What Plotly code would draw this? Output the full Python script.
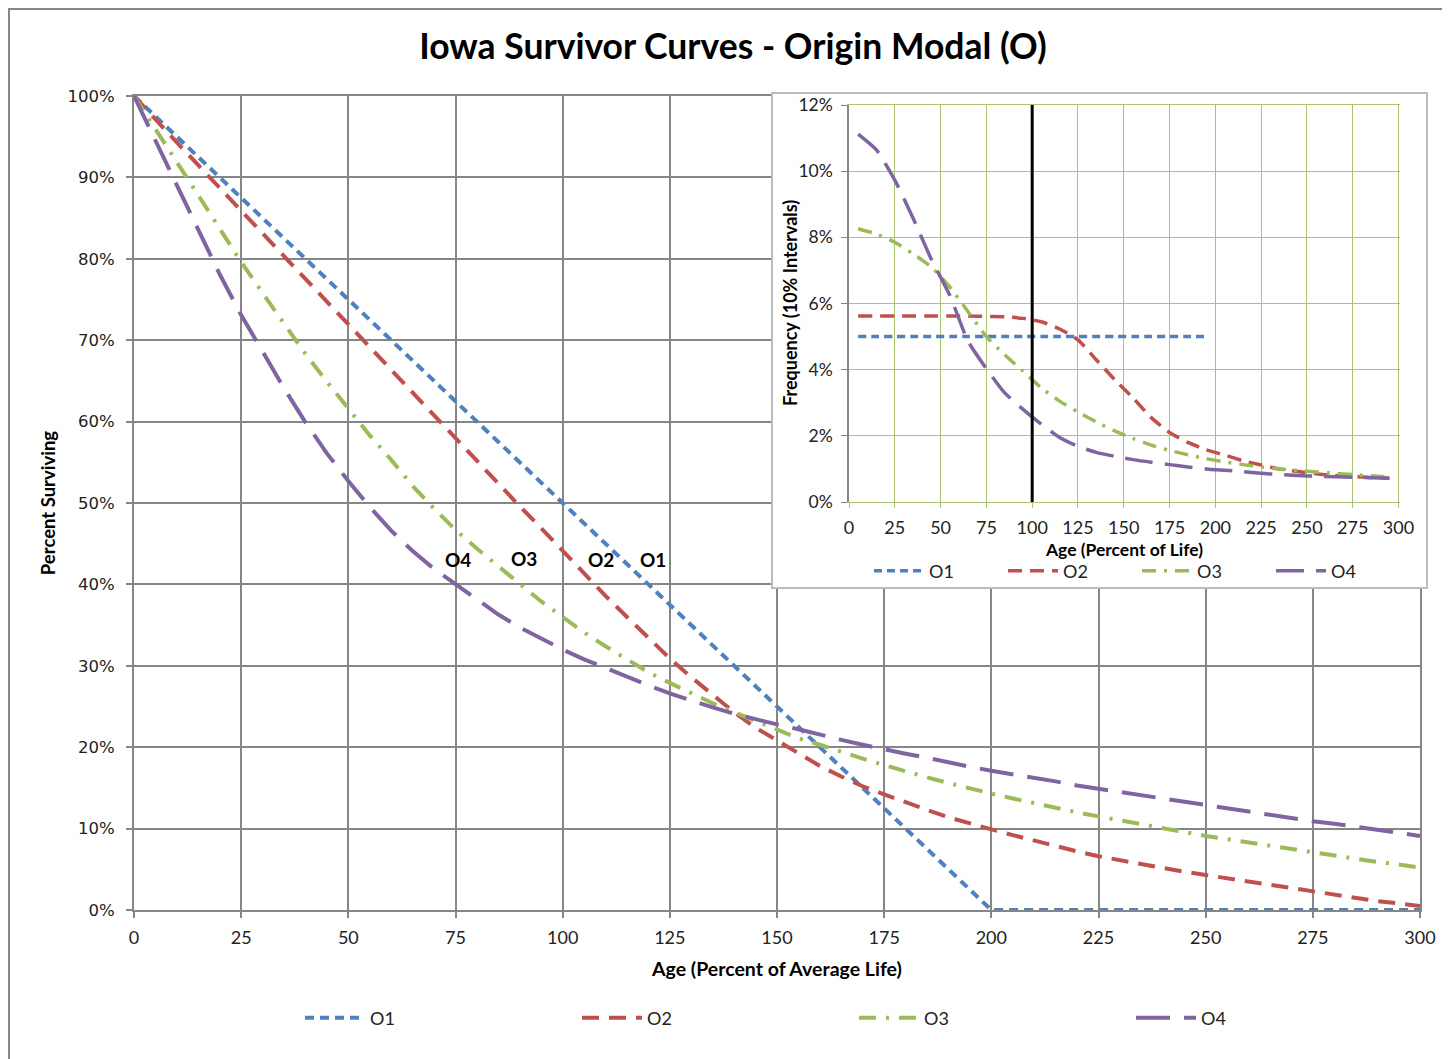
import plotly.graph_objects as go

# ---------------- data ----------------
AGE = list(range(0, 301, 5))  # percent of average life

O1_SURV = [100, 97.5, 95, 92.5, 90, 87.5, 85, 82.5, 80, 77.5, 75, 72.5, 70, 67.5, 65, 62.5,
           60, 57.5, 55, 52.5, 50, 47.5, 45, 42.5, 40, 37.5, 35, 32.5, 30, 27.5, 25, 22.5,
           20, 17.5, 15, 12.5, 10, 7.5, 5, 2.5, 0,
           0, 0, 0, 0, 0, 0, 0, 0, 0, 0, 0, 0, 0, 0, 0, 0, 0, 0, 0, 0]
O2_SURV = [100, 97.1, 94.3, 91.5, 88.7, 85.9, 83.1, 80.3, 77.5, 74.7, 71.9, 69.1, 66.3, 63.5,
           60.8, 58.0, 55.2, 52.4, 49.6, 46.9, 44.1,
           41.4, 38.6, 36.0, 33.4, 30.9, 28.6, 26.4, 24.3, 22.4, 20.8, 19.2, 17.7, 16.4, 15.2,
           14.2, 13.2, 12.3, 11.4, 10.6, 9.9,
           9.2, 8.5, 7.8, 7.2, 6.6, 6.1, 5.6, 5.1, 4.7, 4.3, 3.9, 3.5, 3.0, 2.6, 2.3, 1.9, 1.4,
           1.1, 0.8, 0.5]
O3_SURV = [100, 96.0, 91.8, 87.8, 83.7, 79.6, 75.8, 72.0, 68.3, 64.9, 61.6, 58.3, 55.3, 52.1,
           49.3, 46.7, 44.4, 42.2, 40.0, 37.9, 36.0,
           34.1, 32.4, 30.8, 29.2, 27.9, 26.6, 25.4, 24.3, 23.2, 22.1, 21.1, 20.3, 19.4, 18.6,
           17.8, 17.0, 16.3, 15.6, 14.9, 14.3,
           13.7, 13.1, 12.5, 12.0, 11.5, 11.0, 10.5, 10.0, 9.6, 9.1, 8.7, 8.3, 7.9, 7.4, 7.0,
           6.6, 6.3, 5.9, 5.6, 5.2]
O4_SURV = [100, 94.5, 89.2, 83.5, 78.1, 73.1, 68.5, 64.1, 59.9, 56.1, 52.7, 49.5, 46.6, 44.1,
           41.9, 40.0, 38.1, 36.3, 34.7, 33.3, 32.0,
           30.8, 29.7, 28.6, 27.6, 26.6, 25.7, 24.9, 24.1, 23.4, 22.8, 22.2, 21.5, 20.9, 20.3,
           19.7, 19.2, 18.7, 18.1, 17.6, 17.1,
           16.7, 16.2, 15.8, 15.3, 14.9, 14.5, 14.1, 13.7, 13.3, 12.8, 12.4, 12.0, 11.6, 11.3,
           10.9, 10.6, 10.2, 9.8, 9.4, 9.1]

# inset: frequency per 10% interval (plotted at interval midpoints)
FREQ_AGE = list(range(5, 300, 10))
O1_FREQ = [5.0] * 20 + [None] * 10
O2_FREQ = [5.62, 5.62, 5.62, 5.62, 5.62, 5.62, 5.62, 5.61, 5.6, 5.55,
           5.45, 5.23, 4.9, 4.3, 3.7, 3.15, 2.55, 2.1, 1.8, 1.58,
           1.42, 1.25, 1.12, 1.0, 0.92, 0.85, 0.8, 0.77, 0.74, 0.72]
O3_FREQ = [8.26, 8.1, 7.85, 7.5, 7.1, 6.5, 5.75, 5.0, 4.45, 3.95,
           3.45, 3.05, 2.72, 2.42, 2.15, 1.92, 1.72, 1.56, 1.43, 1.31,
           1.21, 1.13, 1.06, 1.0, 0.95, 0.91, 0.87, 0.83, 0.79, 0.75]
O4_FREQ = [11.12, 10.64, 9.73, 8.58, 7.33, 6.25, 4.86, 4.03, 3.3, 2.8,
           2.35, 1.95, 1.68, 1.5, 1.38, 1.28, 1.2, 1.13, 1.06, 1.0,
           0.96, 0.92, 0.87, 0.83, 0.8, 0.78, 0.76, 0.75, 0.73, 0.72]
MEAN_LIFE = 100

NAMES = ["O1", "O2", "O3", "O4"]
LABEL_X = [121, 109, 91, 75.5]
LABEL_Y = [43.1, 43.0, 43.2, 43.0]

# ---------------- style ----------------
COLORS = ["#4f81bd", "#c0504d", "#9bbb59", "#8064a2"]
DASH_MAIN = ["9px,6px", "17px,10px", "17px,10px,3px,10px", "34px,14px"]
DASH_INS = ["8px,5px", "14px,8px", "14px,8px,3px,8px", "28px,12px"]
GRAY = "#868686"
GREEN_GRID = "#abc573"
FONT = "Lato"

# page offset (default body margin) -> figure is drawn from (8, 8)
OFF = 8
W, H = 1450 - OFF, 1059 - OFF
L, T = 134 - OFF, 90 - OFF          # paper area starts at page (134, 90)
PW, PH = 1296, 820                  # paper area spans page x 134..1430, y 90..910
R = W - L - PW
B = H - T - PH


def px_x(p):  # page x -> paper fraction
    return (p - 134) / PW


def px_y(p):  # page y -> paper fraction
    return (910 - p) / PH


fig = go.Figure()

surv = [O1_SURV, O2_SURV, O3_SURV, O4_SURV]
freq = [O1_FREQ, O2_FREQ, O3_FREQ, O4_FREQ]

for i, name in enumerate(NAMES):
    fig.add_trace(go.Scatter(
        x=AGE, y=surv[i], mode="lines", name=name,
        line=dict(color=COLORS[i], width=4, dash=DASH_MAIN[i]),
        xaxis="x", yaxis="y", legend="legend", hoverinfo="skip"))

# invisible trace that creates the inset's white box subplot
fig.add_trace(go.Scatter(x=[], y=[], xaxis="x2", yaxis="y2", showlegend=False,
                         hoverinfo="skip"))

for i, name in enumerate(NAMES):
    fig.add_trace(go.Scatter(
        x=FREQ_AGE, y=freq[i], mode="lines", name=name,
        line=dict(color=COLORS[i], width=3.5, dash=DASH_INS[i],
                  shape="spline", smoothing=0.6),
        xaxis="x3", yaxis="y3", legend="legend2", hoverinfo="skip"))

for i, name in enumerate(NAMES):
    fig.add_annotation(x=LABEL_X[i], y=LABEL_Y[i], xref="x", yref="y", text=name,
                       showarrow=False,
                       font=dict(family=FONT, size=19, color="black", weight="bold"))

# inset y-axis title (placed close to tick labels as in the original)
fig.add_annotation(x=px_x(790), y=px_y(303), xref="paper", yref="paper",
                   text="Frequency (10% Intervals)", textangle=-90, showarrow=False,
                   xanchor="center", yanchor="middle",
                   font=dict(family=FONT, size=18, color="black", weight="bold"))

fig.add_shape(type="line", xref="x3", yref="y3", x0=MEAN_LIFE, x1=MEAN_LIFE, y0=0, y1=12,
              line=dict(color="black", width=3), layer="above")

# outer chart border
fig.add_shape(type="rect", xref="paper", yref="paper",
              x0=px_x(9), x1=px_x(1480), y0=px_y(1100), y1=px_y(9),
              line=dict(color=GRAY, width=2), fillcolor="rgba(0,0,0,0)", layer="above")

fig.update_layout(
    width=W, height=H, autosize=False,
    margin=dict(l=L, r=R, t=T, b=B, autoexpand=False),
    paper_bgcolor="white", plot_bgcolor="white",
    title=dict(text="Iowa Survivor Curves - Origin Modal (O)",
               xref="container", x=(733 - OFF) / W, xanchor="center",
               yref="container", y=1 - (47 - OFF) / H, yanchor="middle",
               font=dict(family=FONT, size=35.5, color="black", weight="bold")),
    xaxis=dict(domain=[0, px_x(1420)], range=[0, 300], tick0=0, dtick=25,
               showgrid=True, gridcolor=GRAY, gridwidth=2,
               showline=True, linecolor=GRAY, linewidth=2, mirror=True,
               ticks="outside", ticklen=6, tickcolor=GRAY, tickwidth=2,
               zeroline=False, anchor="y", ticklabelstandoff=4,
               tickfont=dict(family=FONT, size=18, color="#222"),
               title=dict(text="Age (Percent of Average Life)", standoff=16,
                          font=dict(family=FONT, size=19.5, color="black", weight="bold"))),
    yaxis=dict(domain=[0, px_y(96)], range=[0, 100], tick0=0, dtick=10, ticksuffix="%",
               showgrid=True, gridcolor=GRAY, gridwidth=2,
               showline=True, linecolor=GRAY, linewidth=2, mirror=True,
               ticks="outside", ticklen=6, tickcolor=GRAY, tickwidth=2,
               zeroline=False, anchor="x", ticklabelstandoff=8,
               tickfont=dict(family="DejaVu Sans", size=16.5, color="#222"),
               title=dict(text="Percent Surviving", standoff=7,
                          font=dict(family=FONT, size=18.5, color="black", weight="bold"))),
    xaxis2=dict(domain=[px_x(773), px_x(1426)], range=[0, 1], anchor="y2",
                showgrid=False, zeroline=False, showticklabels=False, ticks="",
                showline=True, mirror=True, linecolor="#bcbcbc", linewidth=1.5,
                fixedrange=True),
    yaxis2=dict(domain=[px_y(587), px_y(94)], range=[0, 1], anchor="x2",
                showgrid=False, zeroline=False, showticklabels=False, ticks="",
                showline=True, mirror=True, linecolor="#bcbcbc", linewidth=1.5,
                fixedrange=True),
    xaxis3=dict(domain=[px_x(849), px_x(1400)], range=[0, 300.8], tick0=0, dtick=25,
                anchor="y3", showgrid=True, gridcolor=GREEN_GRID, gridwidth=1.3,
                showline=True, mirror=True, linecolor=GREEN_GRID, linewidth=1.3,
                ticks="outside", ticklen=5, tickcolor=GREEN_GRID,
                zeroline=False, ticklabelstandoff=4,
                tickfont=dict(family=FONT, size=18, color="#222"),
                title=dict(text="Age (Percent of Life)", standoff=6,
                           font=dict(family=FONT, size=17.5, color="black", weight="bold"))),
    yaxis3=dict(domain=[px_y(502), px_y(105)], range=[0, 12], tick0=0, dtick=2,
                ticksuffix="%", anchor="x3",
                showgrid=True, gridcolor=GREEN_GRID, gridwidth=1.3,
                showline=True, linecolor=GRAY, linewidth=1.5,
                ticks="outside", ticklen=6, tickcolor=GRAY,
                zeroline=False, ticklabelstandoff=5,
                tickfont=dict(family=FONT, size=17.5, color="#222")),
    legend=dict(orientation="h", x=px_x(300), y=px_y(1018), xanchor="left",
                yanchor="middle", itemwidth=60, entrywidth=202, entrywidthmode="pixels",
                font=dict(family=FONT, size=18, color="#222"),
                bgcolor="rgba(0,0,0,0)", traceorder="normal"),
    legend2=dict(orientation="h", x=px_x(869), y=px_y(571), xanchor="left",
                 yanchor="middle", itemwidth=50, entrywidth=69, entrywidthmode="pixels",
                 font=dict(family=FONT, size=18, color="#222"),
                 bgcolor="rgba(0,0,0,0)", traceorder="normal"),
    showlegend=True,
)

fig.write_html("out.html")
